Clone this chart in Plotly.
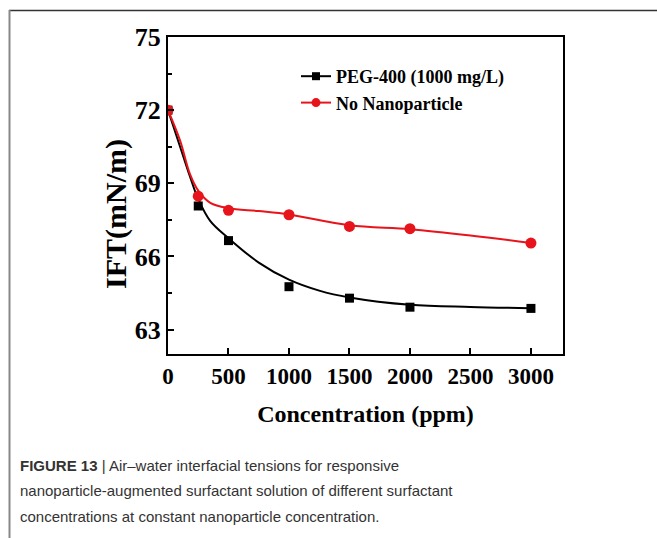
import plotly.graph_objects as go

# ---- data ----
conc = [0, 250, 500, 1000, 1500, 2000, 3000]
peg400 = [72.0, 68.07, 66.65, 64.76, 64.29, 63.92, 63.87]
no_np = [72.0, 68.47, 67.89, 67.71, 67.23, 67.14, 66.55]

# fitted curves
fit_conc = [0, 100, 180, 250, 350, 500, 750, 1000, 1250, 1500, 2000, 2500, 3000]
peg_fit = [72.0, 70.5, 69.3, 68.35, 67.45, 66.75, 65.75, 65.05, 64.6, 64.32, 64.02, 63.93, 63.88]
fit_conc_r = [0, 100, 180, 250, 350, 500, 750, 1000, 1500, 2000, 2500, 3000]
nonp_fit = [72.0, 70.75, 69.4, 68.7, 68.2, 67.98, 67.86, 67.72, 67.28, 67.12, 66.86, 66.55]

series_names = ["PEG-400 (1000 mg/L)", "No Nanoparticle"]
x_ticks = [0, 500, 1000, 1500, 2000, 2500, 3000]
y_ticks = [63, 66, 69, 72, 75]
x_title = "Concentration (ppm)"
y_title = "IFT(mN/m)"

caption_lines = [
    "<b>FIGURE 13</b> | Air–water interfacial tensions for responsive",
    "nanoparticle-augmented surfactant solution of different surfactant",
    "concentrations at constant nanoparticle concentration.",
]

# ---- layout constants ----
W, H = 657, 538
ML, MR, MT, MB = 168, 94, 37, 184
PW, PH = W - ML - MR, H - MT - MB

def px(x):
    return (x - ML) / PW

def py(y):
    return 1 - (y - MT) / PH

RED = "#e8141b"
BLACK = "#000000"
SERIF = "Liberation Serif, Times New Roman, serif"

fig = go.Figure()

fig.add_trace(go.Scatter(x=fit_conc, y=peg_fit, mode="lines", line=dict(color=BLACK, width=2, shape="spline"),
                         showlegend=False, hoverinfo="skip"))
fig.add_trace(go.Scatter(x=fit_conc_r, y=nonp_fit, mode="lines", line=dict(color=RED, width=2, shape="spline"),
                         showlegend=False, hoverinfo="skip"))
fig.add_trace(go.Scatter(x=conc, y=peg400, mode="markers", marker=dict(symbol="square", size=9, color=BLACK),
                         showlegend=False))
fig.add_trace(go.Scatter(x=conc, y=no_np, mode="markers", marker=dict(symbol="circle", size=11, color=RED),
                         showlegend=False))
# legend entries
fig.add_trace(go.Scatter(x=[None], y=[None], mode="lines+markers", name=series_names[0],
                         line=dict(color=BLACK, width=2), marker=dict(symbol="square", size=8, color=BLACK)))
fig.add_trace(go.Scatter(x=[None], y=[None], mode="lines+markers", name=series_names[1],
                         line=dict(color=RED, width=2), marker=dict(symbol="circle", size=9, color=RED)))

annotations = []
for i, line in enumerate(caption_lines):
    annotations.append(dict(
        text=line, x=px(18), y=py(465 + i * 25.5), xref="paper", yref="paper",
        xanchor="left", yanchor="middle", showarrow=False, align="left",
        font=dict(family="Liberation Sans, Arial, sans-serif", size=15, color="#333333"),
    ))
annotations.append(dict(
    text="<b>" + y_title + "</b>", x=px(116), y=py(214), xref="paper", yref="paper",
    xanchor="center", yanchor="middle", showarrow=False, textangle=-90,
    font=dict(family=SERIF, size=30, color="black"),
))

shapes = [
    dict(type="line", xref="paper", yref="paper", x0=px(9), x1=px(657), y0=py(10.5), y1=py(10.5),
         line=dict(color="#333333", width=1.5)),
    dict(type="line", xref="paper", yref="paper", x0=px(9.5), x1=px(9.5), y0=py(10), y1=py(538),
         line=dict(color="#888888", width=2)),
]

fig.update_layout(
    width=W, height=H,
    margin=dict(l=ML, r=MR, t=MT, b=MB),
    paper_bgcolor="white", plot_bgcolor="white",
    font=dict(family=SERIF, color="black"),
    showlegend=True,
    legend=dict(x=px(296), y=py(58), xanchor="left", yanchor="top", bgcolor="rgba(0,0,0,0)",
                font=dict(family=SERIF, size=18, color="black", weight="bold"), itemwidth=30, tracegroupgap=0),
    annotations=annotations,
    shapes=shapes,
    xaxis=dict(range=[0, 3265], tickvals=x_ticks, ticktext=[str(v) for v in x_ticks],
               showline=True, linecolor="black", linewidth=2, mirror=True,
               ticks="inside", ticklen=6, tickwidth=1.5, tickcolor="black",
               showgrid=False, zeroline=False,
               tickfont=dict(family=SERIF, size=23, color="black", weight="bold"),
               title=dict(text="<b>" + x_title + "</b>", font=dict(family=SERIF, size=24, color="black"),
                          standoff=18),
               minor=dict(ticks="", showgrid=False)),
    yaxis=dict(range=[62, 75], tickvals=y_ticks, ticktext=[str(v) for v in y_ticks],
               showline=True, linecolor="black", linewidth=2, mirror=True,
               ticks="inside", ticklen=6, tickwidth=1.5, tickcolor="black",
               showgrid=False, zeroline=False,
               tickfont=dict(family=SERIF, size=26, color="black", weight="bold"),
               minor=dict(tickvals=[64.5, 67.5, 70.5, 73.5], ticks="inside", ticklen=4, tickwidth=1.5,
                          tickcolor="black", showgrid=False)),
)

fig.write_html("out.html")
